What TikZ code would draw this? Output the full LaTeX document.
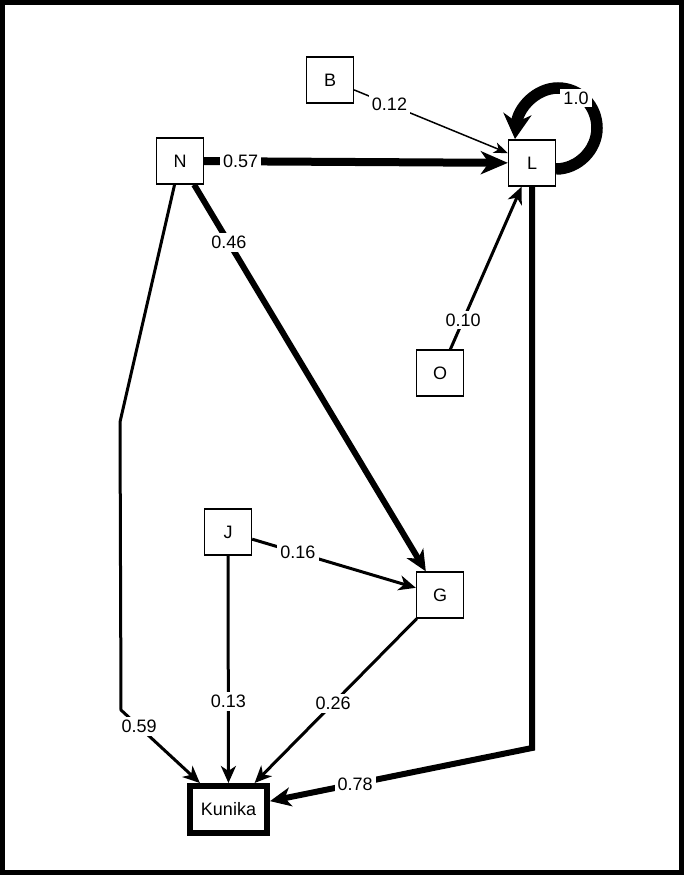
\documentclass[tikz,border=0pt]{standalone}
\usepackage{fontspec}
\setmainfont{Liberation Sans}
\usetikzlibrary{arrows.meta}
\begin{document}
\begin{tikzpicture}[x=1pt,y=-1pt,
  box/.style={draw,line width=1.3pt,fill=white,minimum width=47pt,minimum height=46pt,inner sep=0pt,font=\fontsize{18}{21}\selectfont},
  lbl/.style={fill=white,inner sep=3pt,font=\fontsize{18}{21}\selectfont},
  tipA/.style={-{Stealth[length=17pt,width=15pt,inset=5pt]}},
  tipS/.style={-{Stealth[length=14pt,width=11pt,inset=4pt]}},
  tipB/.style={-{Stealth[length=21pt,width=19pt,inset=6pt]}},
  tipC/.style={-{Stealth[length=27pt,width=23pt,inset=8pt]}},
  tipD/.style={-{Stealth[length=25pt,width=28pt,inset=8pt]}},
  ]
\useasboundingbox (0,0) rectangle (685,876);
\draw[line width=5pt] (2.5,2.5) rectangle (681.5,872.5);

\node[box] (B) at (330,80) {B};
\node[box] (L) at (532,163) {L};
\node[box] (N) at (180,161) {N};
\node[box] (O) at (440,373) {O};
\node[box] (J) at (228,532) {J};
\node[box] (G) at (440,595) {G};
\node[box,line width=6pt,minimum width=77pt,minimum height=47pt] (K) at (228.5,809.5) {Kunika};

\coordinate (nb1) at (120,422);
\coordinate (nb2) at (121,710);
\coordinate (lb) at (532,748);
\coordinate (ls) at (556,169);
\coordinate (lt) at (515,139);

% edges
\draw[tipS,line width=1.5pt] (B) -- node[lbl,pos=0.23]{0.12} (L);
\draw[tipC,line width=8pt] (N) -- node[lbl,pos=0.12]{0.57} (L);
\draw[tipA,line width=3pt] (O) -- node[lbl,pos=0.18]{0.10} (L);
\draw[tipB,line width=6pt] (N) -- node[lbl,pos=0.15]{0.46} (G);
\draw[tipA,line width=3pt] (J) -- node[lbl,pos=0.28]{0.16} (G);
\draw[tipA,line width=3pt] (J) -- node[lbl,pos=0.64]{0.13} (K);
\draw[tipA,line width=3pt] (G) -- node[lbl,pos=0.515]{0.26} (K);
\draw[tipA,line width=3pt] (N) -- (nb1) -- (nb2) -- node[lbl,pos=0.23]{0.59} (K);
\draw[tipB,line width=6pt] (L) -- (lb) -- node[lbl,pos=0.675]{0.78} (K);

% self loop
\draw[tipD,line width=11.5pt] (ls) .. controls (578,169) and (597,150) .. (597,128)
  .. controls (597,106) and (580,88) .. (558,88)
  .. controls (536,88) and (518,108) .. (lt);
\node[lbl] (l10) at (576,98) {1.0};
\end{tikzpicture}
\end{document}
